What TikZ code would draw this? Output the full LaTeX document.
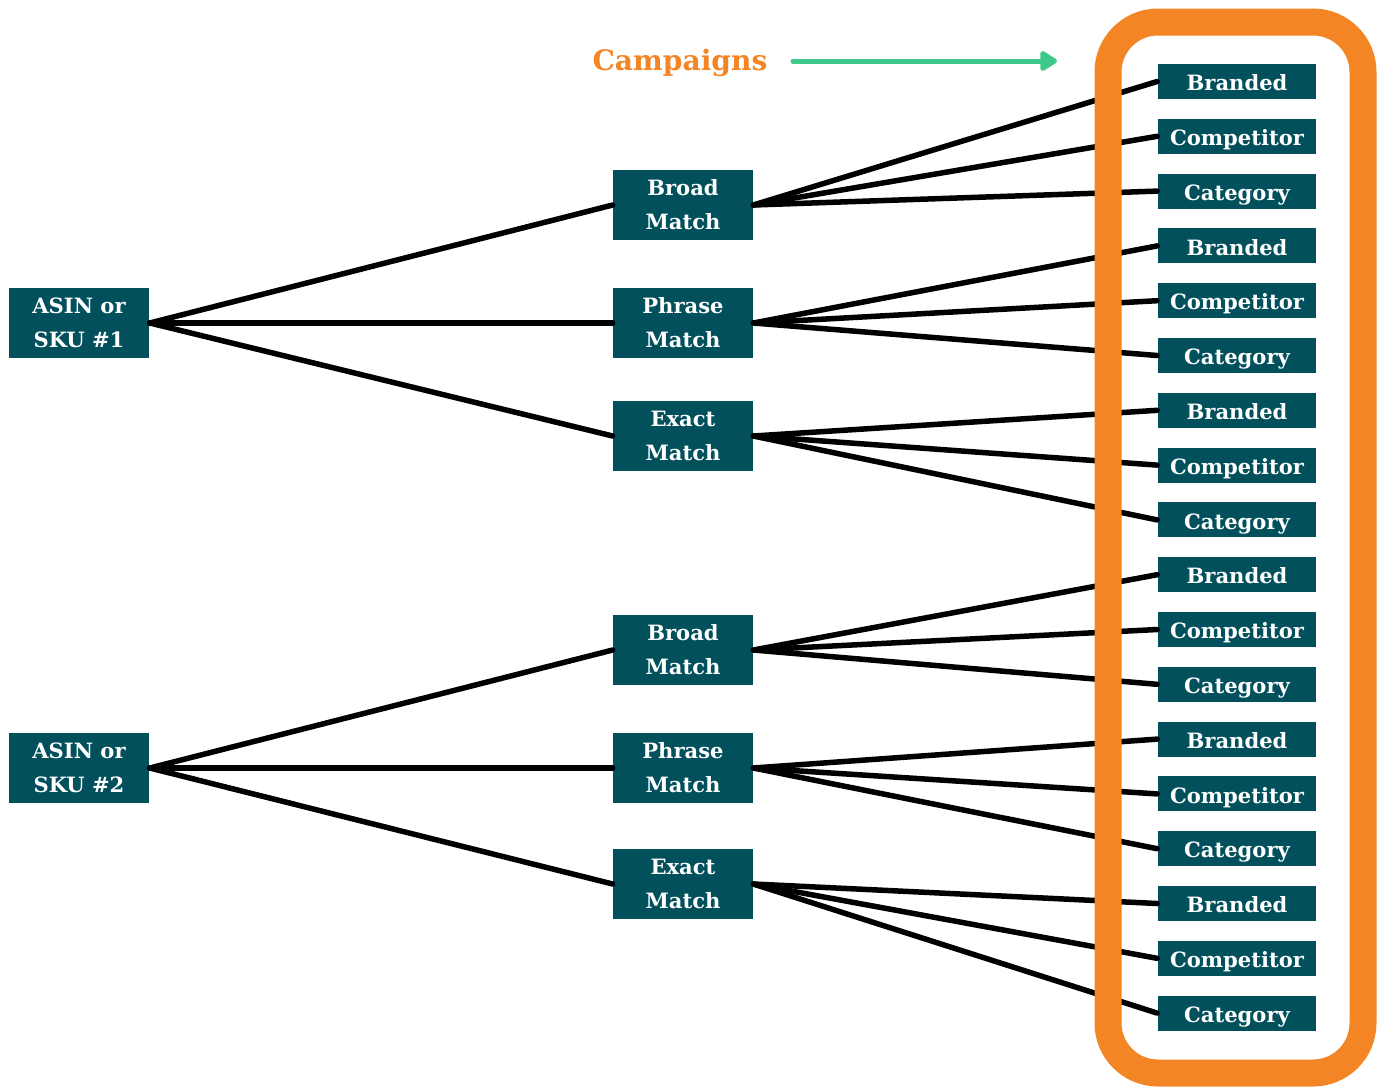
\documentclass[tikz,border=0pt]{standalone}
\usepackage{fontspec}
\setmainfont{DejaVu Serif}
\usetikzlibrary{arrows.meta}
\definecolor{teal}{HTML}{02505C}
\definecolor{campor}{HTML}{F48524}
\definecolor{arrgreen}{HTML}{3CC98A}
\tikzset{
  box/.style={fill=teal,text=white,font=\bfseries\fontsize{12}{19.3}\selectfont,align=center,inner sep=0pt},
  src/.style={box,minimum width=2.82cm,minimum height=1.4cm},
  mid/.style={box,minimum width=2.8cm,minimum height=1.4cm},
  camp/.style={box,minimum width=3.18cm,minimum height=0.7cm,text height=1.05em,text depth=0em},
  link/.style={line width=0.11cm,line cap=round}
}
\begin{document}
\begin{tikzpicture}[x=0.02cm,y=-0.02cm]
	\useasboundingbox (0,0) rectangle (1383,1086);
	% sources
	\node[src] (a1) at (79,323) {ASIN or\\SKU \#1};
	\node[src] (a2) at (79,768) {ASIN or\\SKU \#2};
	% match types
	\node[mid] (m1) at (683,205) {Broad\\Match};
	\node[mid] (m2) at (683,323) {Phrase\\Match};
	\node[mid] (m3) at (683,436) {Exact\\Match};
	\node[mid] (m4) at (683,650) {Broad\\Match};
	\node[mid] (m5) at (683,768) {Phrase\\Match};
	\node[mid] (m6) at (683,884) {Exact\\Match};
	% campaigns
	\foreach \lab [count=\i] in {Branded,Competitor,Category,Branded,Competitor,Category,Branded,Competitor,Category,Branded,Competitor,Category,Branded,Competitor,Category,Branded,Competitor,Category}
		\node[camp] (c\i) at (1237,{81.5+(\i-1)*54.8}) {\lab};
	% links
	\foreach \s/\m in {a1/m1,a1/m2,a1/m3,a2/m4,a2/m5,a2/m6}
		\draw[link] (\s.east)--(\m.west);
	\foreach \m [count=\k from 0] in {m1,m2,m3,m4,m5,m6}
		\foreach \j in {1,2,3}{
			\pgfmathtruncatemacro{\n}{3*\k+\j}
			\draw[link] (\m.east)--(c\n.west);
		}
	% campaign frame
	\draw[campor,line width=0.54cm,rounded corners=1cm] (1108,22) rectangle (1363,1073);
	\node[text=campor,font=\bfseries\fontsize{16}{19}\selectfont] (ttl) at (680,63) {Campaigns};
	\coordinate (tip) at (1057,61);
	\draw[arrgreen,line width=0.1cm,line cap=round,-{Triangle[round,length=0.38cm,width=0.45cm]}] (793,61)--(tip);
\end{tikzpicture}
\end{document}
